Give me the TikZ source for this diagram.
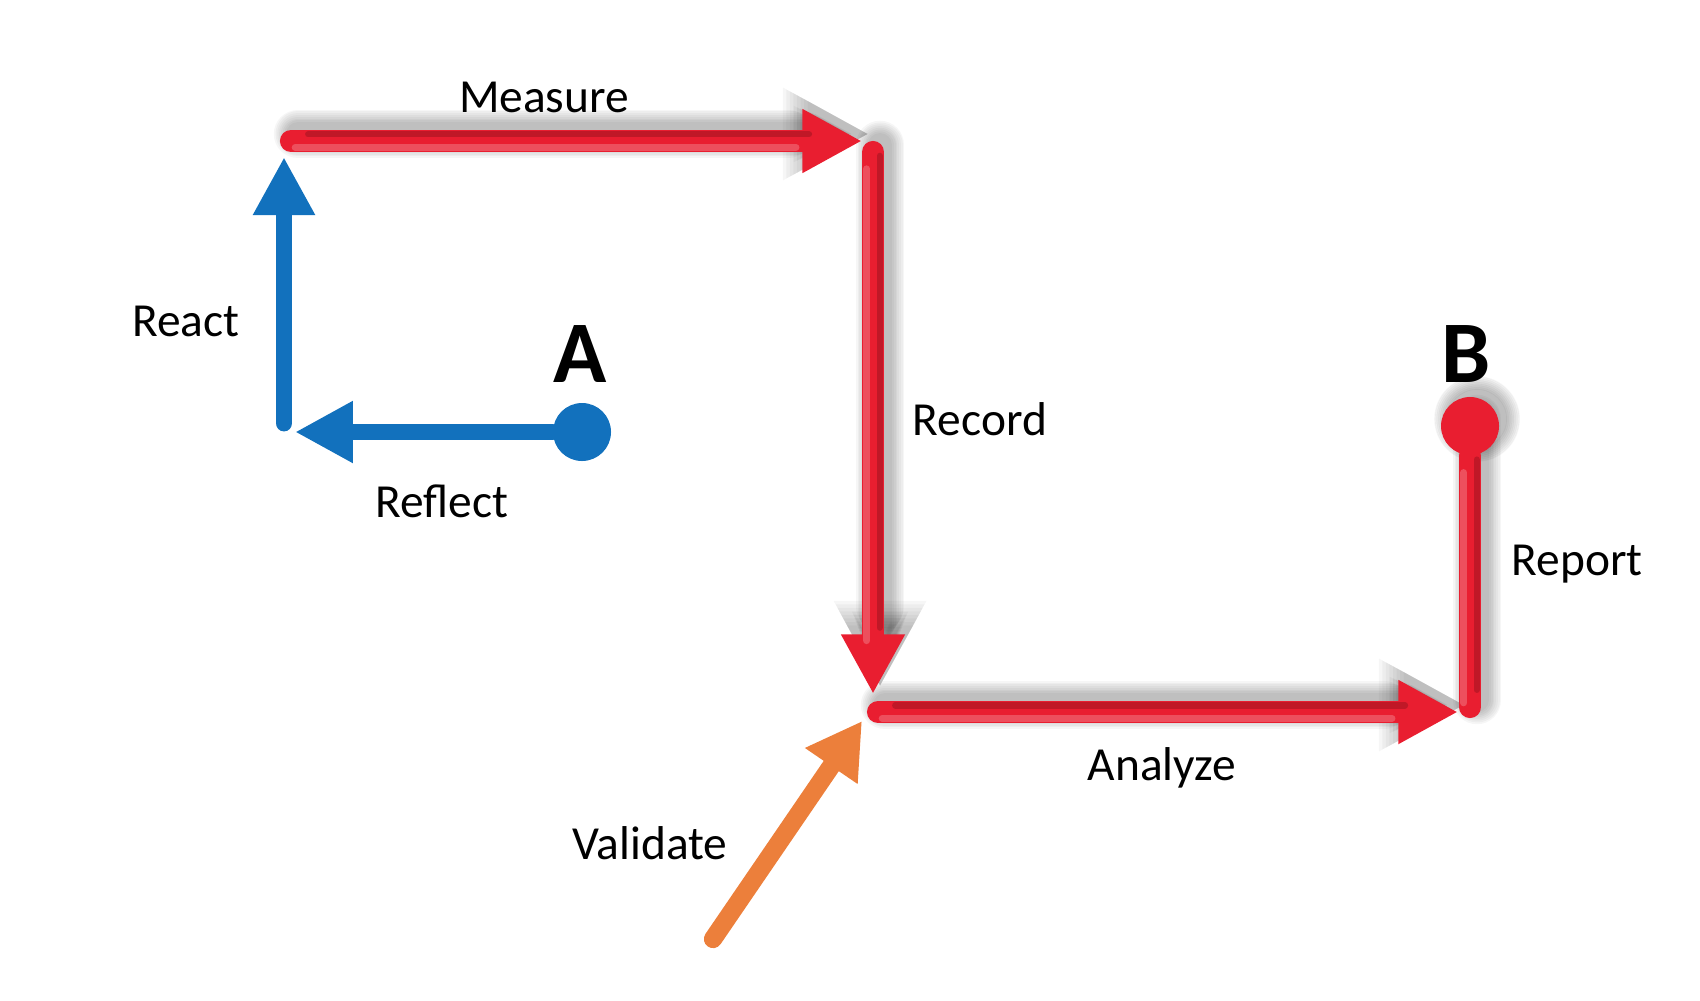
\documentclass[tikz,border=0pt]{standalone}
\usepackage{fontspec}
\setmainfont{Carlito}
\usetikzlibrary{arrows.meta,positioning}
\definecolor{flowred}{RGB}{233,30,48}
\definecolor{flowblue}{RGB}{18,113,189}
\definecolor{floworange}{RGB}{236,127,59}
\pgfdeclarelayer{back}
\pgfsetlayers{back,main}

\begin{document}
\begin{tikzpicture}[
  x=0.1mm, y=-0.1mm,
  lbl/.style={font=\fontsize{13.5}{16}\selectfont, anchor=base, inner sep=0pt},
  endlbl/.style={font=\bfseries\fontsize{25}{30}\selectfont, anchor=base, inner sep=0pt},
  dot/.style={circle, minimum size=5.8mm, inner sep=0pt},
  redarrow/.style={draw=flowred, line width=6.3pt, line cap=round, -{Triangle[length=10.7pt 1, width=10.7pt 1]}},
  redbar/.style={draw=flowred, line width=6.3pt, line cap=round},
  blurred/.style={draw=black, fill=black, opacity=0.035, transform canvas={shift={(2pt,2pt)}}},
  shine/.style={draw=white, line width=2pt, opacity=0.22, line cap=round, shorten <=3pt, transform canvas={shift={(-1.8pt,-1.8pt)}}},
  gloom/.style={draw=flowred!50!black, line width=1.8pt, opacity=0.35, line cap=round, shorten <=3pt, transform canvas={shift={(1.9pt,1.9pt)}}},
  bluearrow/.style={draw=flowblue, line width=4.8pt, line cap=round, -{Triangle[length=16.5pt, width=16.5pt]}},
  orangearrow/.style={draw=floworange, line width=5.2pt, line cap=round, -{Triangle[length=15.5pt, width=17pt]}}
]
\useasboundingbox (0,0) rectangle (1700,1000);

% path points
\coordinate (meas0) at (291,141);
\coordinate (meas1) at (862,141);
\coordinate (rec0) at (873,152);
\coordinate (rec1) at (873,694);
\coordinate (ana0) at (878,712);
\coordinate (ana1) at (1458,712);
\coordinate (rep0) at (1470,707);
\coordinate (refl1) at (295,432);
\coordinate (react0) at (284,423);
\coordinate (react1) at (284,157);
\coordinate (val0) at (713,939);
\coordinate (val1) at (862,721);

% start and end
\node[dot, fill=flowblue] (A) at (582,432) {};
\node[dot, fill=flowred] (B) at (1470,426) {};

% red route
\draw[redarrow] (meas0) -- (meas1);
\draw[redarrow] (rec0) -- (rec1);
\draw[redarrow] (ana0) -- (ana1);
\draw[redbar] (B) -- (rep0);
\draw[shine, shorten >=17pt] (meas0) -- (meas1);
\draw[shine, shorten >=17pt] (rec0) -- (rec1);
\draw[shine, shorten >=17pt] (ana0) -- (ana1);
\draw[shine, shorten >=3pt] (B) -- (rep0);
\draw[gloom, shorten >=17pt] (meas0) -- (meas1);
\draw[gloom, shorten >=17pt] (rec0) -- (rec1);
\draw[gloom, shorten >=17pt] (ana0) -- (ana1);
\draw[gloom, shorten >=3pt] (B) -- (rep0);

% blue loop
\draw[bluearrow] (A) -- (refl1);
\draw[bluearrow] (react0) -- (react1);

% check
\draw[orangearrow] (val0) -- (val1);

% drop shadows
\begin{pgfonlayer}{back}
\foreach \w in {0.5,1.5,...,7.5} {
  \draw[redarrow, blurred, line width=6.3pt+\w pt] (meas0) -- (meas1);
  \draw[redarrow, blurred, line width=6.3pt+\w pt] (rec0) -- (rec1);
  \draw[redarrow, blurred, line width=6.3pt+\w pt] (ana0) -- (ana1);
  \draw[redbar, blurred, line width=6.3pt+\w pt] (B.center) -- (rep0);
  \fill[blurred] (B.center) circle[radius=2.9mm+0.5*\w pt];
}
\end{pgfonlayer}

% labels
\node[lbl] (measure) at (544,112) {Measure};
\node[lbl] (record) at (980,435) {Record};
\node[lbl] (analyze) at (1162,780) {Analyze};
\node[lbl] (report) at (1577,575) {Report};
\node[lbl] (reflect) at (442,517) {Reflect};
\node[lbl] (react) at (186,336) {React};
\node[lbl] (validate) at (650,859) {Validate};
\node[endlbl] (Alab) at (580,382) {A};
\node[endlbl] (Blab) at (1466,382) {B};
\end{tikzpicture}
\end{document}
